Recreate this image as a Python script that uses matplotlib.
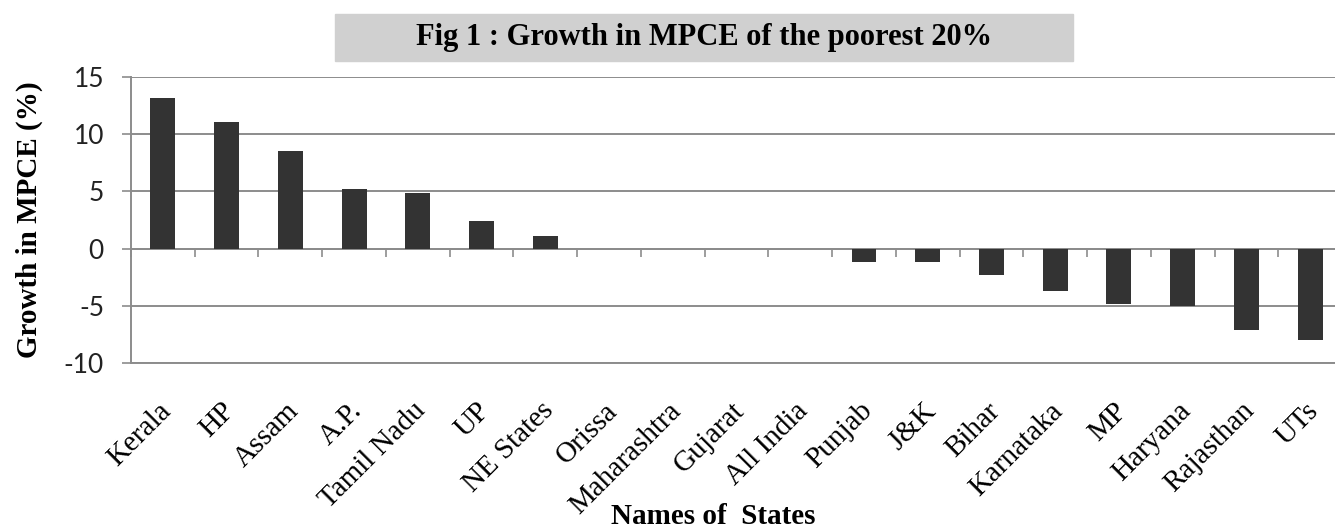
import numpy as np
import matplotlib
matplotlib.use("Agg")
import matplotlib.pyplot as plt
from matplotlib import transforms

# data
states = ['Kerala', 'HP', 'Assam', 'A.P.', 'Tamil Nadu', 'UP', 'NE States', 'Orissa',
          'Maharashtra', 'Gujarat', 'All India', 'Punjab', 'J&K', 'Bihar', 'Karnataka',
          'MP', 'Haryana', 'Rajasthan', 'UTs']
growth = [13.2, 11.1, 8.5, 5.2, 4.9, 2.4, 1.1, 0.0, 0.0, 0.0, 0.0,
          -1.2, -1.2, -2.3, -3.7, -4.8, -5.0, -7.1, -8.0]
yticks = [-10, -5, 0, 5, 10, 15]

plt.rcParams['axes.unicode_minus'] = False
serif = 'Liberation Serif'
grid_col = '#8c8c8c'

fig = plt.figure(figsize=(13.35, 5.29), dpi=100)
ax = fig.add_axes([131 / 1335, 166 / 529, 1211 / 1335, 286 / 529])

x = np.arange(len(states))
ax.bar(x, growth, width=0.39, color='#333333', zorder=3)

ax.set_xlim(-0.5, len(states) - 0.5)
ax.set_ylim(-10, 15)
ax.set_yticks(yticks)
ax.yaxis.grid(True, color=grid_col, linewidth=1.4, zorder=0)
ax.set_axisbelow(True)

for s in ['top', 'right']:
    ax.spines[s].set_visible(False)
for s in ['left', 'bottom']:
    ax.spines[s].set_color(grid_col)
    ax.spines[s].set_linewidth(1.4)

ax.tick_params(axis='y', length=6.5, width=1.2, color=grid_col, pad=13,
               labelsize=19, labelcolor='#222222')
for lab in ax.get_yticklabels():
    lab.set_fontfamily('Lato')

# category labels under the plot
ax.set_xticks(x)
ax.set_xticklabels(states, rotation=45, ha='right', va='top',
                   rotation_mode='anchor', fontfamily=serif, fontsize=21)
ax.tick_params(axis='x', length=0, pad=25)
shift = transforms.ScaledTranslation(-5 / 100, 0, fig.dpi_scale_trans)
for lab in ax.get_xticklabels():
    lab.set_transform(lab.get_transform() + shift)

# zero line with tick marks at category boundaries
zero = ax.secondary_xaxis(10 / 25)
zero.set_xticks(np.arange(len(states) + 1) - 0.5)
zero.set_xticklabels([])
zero.tick_params(axis='x', direction='out', length=6, width=1.2, color=grid_col)
zero.spines['bottom'].set_color(grid_col)
zero.spines['bottom'].set_linewidth(1.4)

ax.set_ylabel('Growth in MPCE (%)', fontfamily=serif, fontweight='bold', fontsize=21)
ax.yaxis.set_label_coords(-88 / 1211, 0.5)
ax.set_xlabel('Names of  States', fontfamily=serif, fontweight='bold', fontsize=21)
ax.xaxis.set_label_coords((713 - 131) / 1211, -(503 - 363) / 286)

fig.text(704 / 1335, 1 - 38 / 529, 'Fig 1 : Growth in MPCE of the poorest 20%',
         ha='center', va='center', fontfamily=serif, fontweight='bold', fontsize=22)
fig.patches.append(plt.Rectangle((335 / 1335, 1 - 61 / 529), 738 / 1335, 47 / 529,
                                 transform=fig.transFigure, color='#d0d0d0', zorder=0))

plt.savefig('out.png', dpi=100)
